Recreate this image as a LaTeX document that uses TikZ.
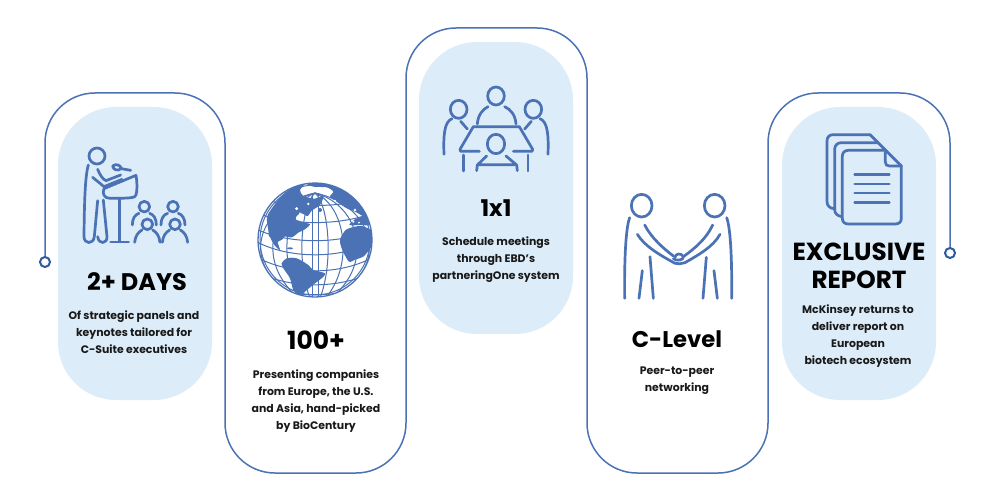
\documentclass[tikz,border=0pt]{standalone}
\usepackage{fontspec}
\setmainfont{Poppins}
\definecolor{lineblue}{HTML}{4A72B5}
\definecolor{ringblue}{HTML}{2F5A9E}
\definecolor{panelblue}{HTML}{DCECF8}
\tikzset{
  x=1pt,y=-1pt,
  panel/.style={fill=panelblue,draw=none,rounded corners=58pt},
  route/.style={draw=lineblue,line width=1.5pt,rounded corners=50pt},
  endring/.style={circle,draw=#1,line width=2pt,fill=white,minimum size=10pt,inner sep=0pt},
  icon/.style={draw=lineblue,line width=2.7pt,line cap=round,line join=round},
  grid/.style={draw=lineblue,line width=1pt},
  land/.style={fill=lineblue,draw=none},
  title/.style={font=\fontsize{24}{28}\selectfont\bfseries,align=center,text=black,inner sep=0pt},
  body/.style={font=\fontsize{10.9}{17}\selectfont\bfseries,align=center,text=black!90,inner sep=0pt}
}
\begin{document}
\begin{tikzpicture}
\useasboundingbox (0,0) rectangle (1000,500);
\fill[white] (0,0) rectangle (1000,500);
% panels
\path[panel] (58,107) rectangle (212,400);
\path[panel] (419,42) rectangle (573,334);
\path[panel] (782,107) rectangle (936,400);
% route
\node[endring=ringblue] (startring) at (45,262) {};
\node[endring=ringblue] (endring) at (950,253) {};
\draw[route] (startring.north) -- (45,93) -- (225,93) -- (225,473) -- (406,473) -- (406,28) -- (587,28) -- (587,473) -- (768,473) -- (768,93) -- (950,93) -- (endring.north);
% speaker icon
\begin{scope}[shift={(30,90)},x=0.3333pt,y=-0.3333pt]
\draw[icon] (201,198) circle [radius=24];
\draw[icon] (175,225) .. controls (165,260) and (163,340) .. (162,440) .. controls (162,462) and (190,465) .. (193,440) -- (203,332);
\draw[icon] (203,440) .. controls (206,465) and (232,462) .. (231,440) -- (220,330);
\draw[icon] (203,238) .. controls (210,255) and (218,268) .. (228,272) -- (272,255) (188,262) -- (222,290) -- (276,268);
\draw[icon] (248,228) .. controls (258,220) and (272,225) .. (274,236) .. controls (262,244) and (250,240) .. (248,228) -- cycle (274,236) -- (302,241);
\draw[icon] (222,296) -- (318,256) .. controls (322,280) and (322,300) .. (318,315) .. controls (316,324) and (300,325) .. (240,325) .. controls (222,325) and (216,310) .. (222,296) -- cycle;
\draw[icon] (268,328) -- (268,455) (242,456) -- (296,456);
\foreach \cx/\cy in {343/350,429/350}{
  \draw[icon] (\cx,\cy) circle [radius=16];
  \draw[icon] (\cx-36,\cy+55) .. controls (\cx-36,\cy+35) and (\cx-28,\cy+24) .. (\cx-16,\cy+20);
  \draw[icon] (\cx+36,\cy+55) .. controls (\cx+36,\cy+35) and (\cx+28,\cy+24) .. (\cx+16,\cy+20);
}
\foreach \cx/\cy in {352/403,435/403}{
  \draw[icon,fill=panelblue] (\cx,\cy) circle [radius=16];
  \draw[icon] (\cx-38,\cy+54) .. controls (\cx-36,\cy+35) and (\cx-28,\cy+24) .. (\cx-16,\cy+17);
  \draw[icon] (\cx+38,\cy+54) .. controls (\cx+36,\cy+35) and (\cx+28,\cy+24) .. (\cx+16,\cy+17);
}
\end{scope}
% globe
\fill[white] (315,240) circle [radius=57];
\begin{scope}
\clip (315,240) circle [radius=57];
\foreach \k in {14,30,45,58}{
  \draw[grid] (315,193) .. controls (315-\k,205) and (315-1.35*\k,265) .. (315-0.3*\k,300);
  \draw[grid] (315,193) .. controls (315+\k,205) and (315+1.35*\k,265) .. (315+0.3*\k,300);
}
\draw[grid] (312,193) -- (312,300) (318,193) -- (318,300);
\foreach \yy/\s in {205/10,222/12,240/14,254/16,270/17,284/16,294/12}{
  \draw[grid] (250,\yy-\s) .. controls (285,\yy+0.4*\s) and (345,\yy+0.4*\s) .. (380,\yy-\s);
}
\draw[grid] (315,240) circle [radius=55];
\begin{scope}[shift={(255,180)},x=0.3333pt,y=-0.3333pt]
\fill[land] plot[smooth cycle,tension=0.45] coordinates {(36,110)(60,72)(85,42)(115,22)(150,11)(135,30)(145,48)(178,56)(205,48)(195,75)(170,92)(158,108)(140,100)(128,105)(122,118)(150,128)(165,133)(150,148)(130,158)(110,172)(80,168)(45,172)(40,150)};
\fill[land] plot[smooth cycle,tension=0.45] coordinates {(150,8)(190,4)(240,14)(290,48)(330,90)(350,135)(325,110)(300,95)(275,85)(245,65)(225,50)(235,35)(215,22)(175,20)};
\fill[land] plot[smooth cycle,tension=0.45] coordinates {(255,180)(262,210)(282,245)(302,238)(325,230)(350,200)(364,165)(345,148)(320,138)(300,140)(272,150)};
\fill[land] plot[smooth cycle,tension=0.45] coordinates {(283,135)(300,118)(325,110)(345,135)(320,135)};
\fill[land] plot[smooth cycle,tension=0.45] coordinates {(45,168)(62,160)(90,165)(80,180)(68,186)(75,210)(58,195)};
\fill[land] plot[smooth cycle,tension=0.5] coordinates {(80,250)(95,235)(125,235)(160,255)(175,270)(210,280)(200,295)(180,310)(150,335)(135,350)(115,330)(105,295)(85,265)};
\fill[land] (105,205) ellipse [x radius=9,y radius=3];
\fill[land] (195,90) circle [radius=6];
\fill[white] (125,86) circle [radius=5] (135,100) circle [radius=3] (160,72) circle [radius=4] (300,90) circle [radius=4] (295,125) circle [radius=3.5] (312,128) circle [radius=3] (240,62) circle [radius=3];
\end{scope}
\end{scope}
\draw[lineblue,line width=1.3pt] (315,240) circle [radius=57];
% meeting icon
\begin{scope}[shift={(420,70)},x=0.3333pt,y=-0.3333pt]
\draw[icon] (228,78) ellipse [x radius=25,y radius=27];
\draw[icon] (116,118) ellipse [x radius=25,y radius=27];
\draw[icon] (340,118) ellipse [x radius=25,y radius=27];
\draw[icon] (172,162) .. controls (174,135) and (188,118) .. (204,110);
\draw[icon] (288,162) .. controls (286,135) and (272,118) .. (254,110);
\draw[icon] (72,253) .. controls (70,200) and (72,155) .. (96,146);
\draw[icon] (122,154) -- (142,177);
\draw[icon] (384,253) .. controls (386,200) and (384,155) .. (360,146);
\draw[icon] (334,154) -- (314,177);
\draw[icon] (178,244) -- (122,244) -- (120,238) -- (160,170) -- (298,170) -- (338,238) -- (336,244) -- (280,244);
\draw[icon] (228,222) ellipse [x radius=26,y radius=29];
\draw[icon] (200,258) -- (172,285) -- (170,302) (174,284) -- (284,284) (258,258) -- (290,285) -- (292,302);
\draw[icon] (130,255) -- (130,303) (324,255) -- (324,303);
\end{scope}
% handshake icon
\begin{scope}[shift={(610,180)},x=0.3333pt,y=-0.3333pt]
\draw[icon] (95,77) ellipse [x radius=31,y radius=34];
\draw[icon] (314,77) ellipse [x radius=31,y radius=34];
\draw[icon] (59,113) .. controls (45,150) and (43,270) .. (44,355);
\draw[icon] (350,113) .. controls (364,150) and (366,270) .. (365,355);
\draw[icon] (104,135) .. controls (125,175) and (160,205) .. (190,228);
\draw[icon] (82,163) .. controls (105,200) and (150,225) .. (195,250) .. controls (205,252) and (215,252) .. (225,248) .. controls (265,225) and (310,200) .. (330,163);
\draw[icon] (308,135) .. controls (290,175) and (255,205) .. (220,230);
\draw[icon] (195,232) .. controls (195,220) and (215,218) .. (220,230) .. controls (222,240) and (200,245) .. (190,236);
\draw[icon] (120,230) -- (130,355) (97,272) -- (87,355);
\draw[icon] (289,232) -- (279,355) (312,272) -- (322,355);
\end{scope}
% document icon
\begin{scope}[shift={(800,90)},x=0.3333pt,y=-0.3333pt]
\draw[icon] (210,134) -- (100,134) .. controls (88,134) and (81,141) .. (81,153) -- (81,335) .. controls (81,347) and (90,356) .. (103,356);
\draw[icon] (210,134) -- (304,228);
\draw[icon] (234,158) -- (125,158) .. controls (112,158) and (104,166) .. (104,178) -- (104,360) .. controls (104,370) and (112,378) .. (126,380);
\draw[icon] (256,181) -- (145,181) .. controls (134,181) and (127,188) .. (127,199) -- (127,385) .. controls (127,396) and (134,402) .. (145,402) -- (286,402) .. controls (297,402) and (304,396) .. (304,385) -- (304,228);
\draw[icon] (256,186) -- (256,216) .. controls (256,224) and (260,228) .. (268,228) -- (304,228);
\draw[icon] (164,254) -- (268,254) (164,282) -- (268,282) (164,309) -- (268,309) (164,337) -- (268,337);
\end{scope}
% texts
\node[title] (t1) at (137,282) {2+ DAYS};
\node[body] (b1) at (134,332) {Of strategic panels and\\keynotes tailored for\\C-Suite executives};
\node[title,font=\fontsize{25}{28}\selectfont\bfseries] (t2) at (316,340) {100+};
\node[body] (b2) at (316,401) {Presenting companies\\from Europe, the U.S.\\and Asia, hand-picked\\by BioCentury};
\node[title,font=\fontsize{23}{28}\selectfont\bfseries] (t3) at (496,208) {1x1};
\node[body] (b3) at (496,260) {Schedule meetings\\through EBD’s\\partneringOne system};
\node[title,font=\fontsize{22.7}{28}\selectfont\bfseries] (t4) at (677,339) {C-Level};
\node[body] (b4) at (677,381) {Peer-to-peer\\networking};
\node[title,font=\fontsize{24.7}{28}\selectfont\bfseries] (t5) at (859,266) {EXCLUSIVE\\REPORT};
\node[body] (b5) at (858,336) {McKinsey returns to\\deliver report on\\European\\biotech ecosystem};
\end{tikzpicture}
\end{document}
